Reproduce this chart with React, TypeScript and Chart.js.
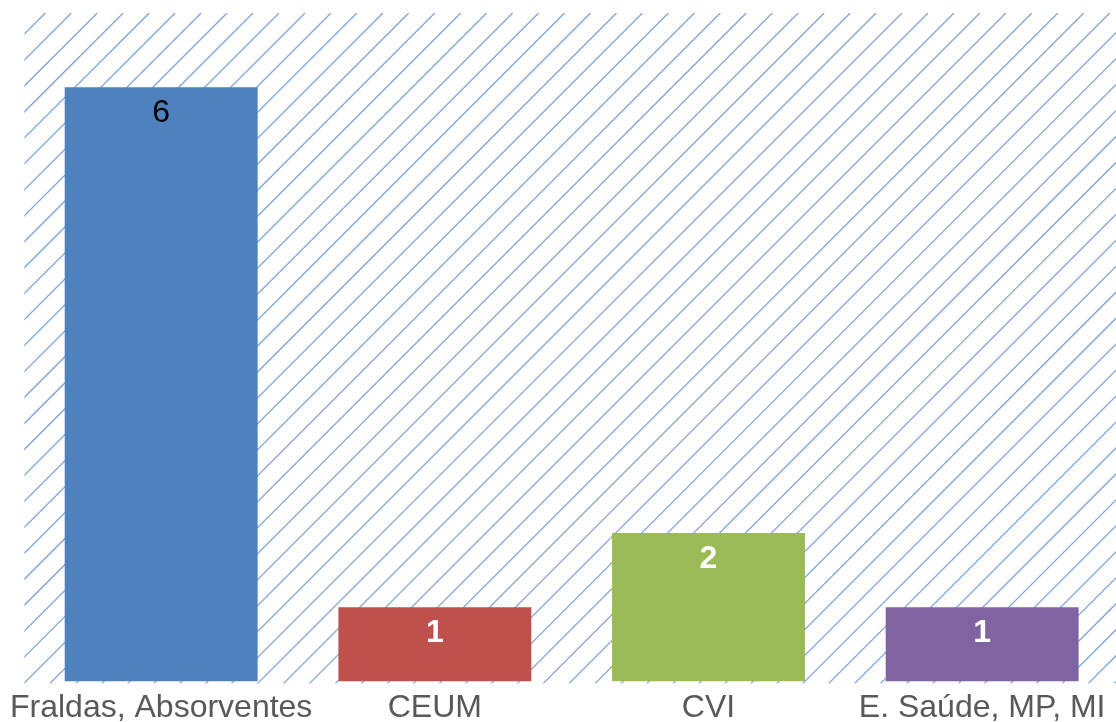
import { useEffect, useRef } from "react";
import { Chart, registerables } from "chart.js";

Chart.register(...registerables);

const categories = ["Fraldas, Absorventes", "CEUM", "CVI", "E. Saúde, MP, MI"];
const barValues = [8, 1, 2, 1];
const valueLabels = ["6", "1", "2", "1"];
const barColors = ["#4f81bd", "#c0504d", "#9bbb59", "#8064a2"];
const labelColors = ["#000000", "#ffffff", "#ffffff", "#ffffff"];
const labelWeights = ["normal", "bold", "bold", "bold"];
const yMax = 9;

const FONT = '"Liberation Sans", Arial, sans-serif';

const hatchPlugin = {
  id: "hatch",
  beforeDatasetsDraw(chart: any) {
    const { ctx, chartArea: a } = chart;
    const bottom = a.bottom + 2;
    ctx.save();
    ctx.beginPath();
    ctx.rect(a.left, a.top, a.right - a.left, bottom - a.top);
    ctx.clip();
    ctx.strokeStyle = "#7ea4da";
    ctx.lineWidth = 1.3;
    const spacing = 25.96;
    ctx.beginPath();
    for (let c = a.left + a.top + 21; c < a.right + bottom + spacing; c += spacing) {
      ctx.moveTo(c - bottom, bottom);
      ctx.lineTo(c - a.top, a.top);
    }
    ctx.stroke();
    ctx.restore();
  },
};

const valueLabelPlugin = {
  id: "valueLabels",
  afterDatasetsDraw(chart: any) {
    const { ctx } = chart;
    const meta = chart.getDatasetMeta(0);
    ctx.save();
    ctx.textAlign = "center";
    ctx.textBaseline = "middle";
    meta.data.forEach((bar: any, i: number) => {
      ctx.font = `${labelWeights[i]} 32px ${FONT}`;
      ctx.fillStyle = labelColors[i];
      ctx.fillText(valueLabels[i], bar.x, bar.y + 26);
    });
    ctx.restore();
  },
};

export default function App() {
  const ref = useRef<HTMLCanvasElement | null>(null);

  useEffect(() => {
    document.body.style.margin = "0";
    document.body.style.overflow = "hidden";
    const canvas = ref.current;
    if (!canvas) return;
    const chart = new Chart(canvas, {
      type: "bar",
      data: {
        labels: categories,
        datasets: [
          {
            data: barValues,
            backgroundColor: barColors,
            borderWidth: 0,
            barPercentage: 0.705,
            categoryPercentage: 1,
          },
        ],
      },
      options: {
        responsive: false,
        animation: false,
        devicePixelRatio: 1,
        layout: { padding: { left: 24, right: 0, top: 13, bottom: -12 } },
        plugins: {
          legend: { display: false },
          tooltip: { enabled: false },
          title: { display: false },
        },
        scales: {
          x: {
            grid: { display: false, drawTicks: false },
            border: { display: false },
            ticks: {
              color: "#595959",
              font: { family: FONT, size: 32 },
              padding: 7,
              maxRotation: 0,
              autoSkip: false,
            },
          },
          y: {
            display: false,
            min: 0,
            max: yMax,
          },
        },
      },
      plugins: [hatchPlugin, valueLabelPlugin],
    });
    return () => chart.destroy();
  }, []);

  return (
    <div style={{ width: 1116, height: 722, overflow: "hidden" }}>
      <canvas ref={ref} width={1119} height={722} style={{ display: "block" }} />
    </div>
  );
}
